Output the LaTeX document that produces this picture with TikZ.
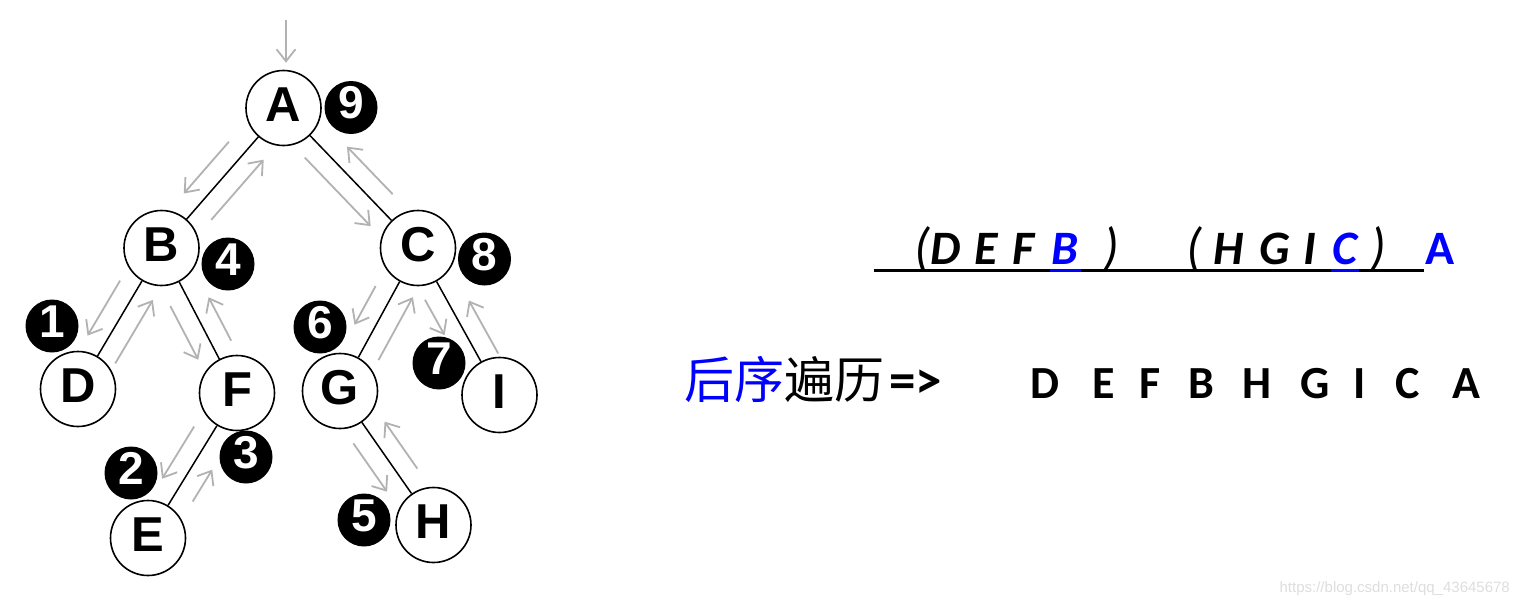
\documentclass[tikz,border=0pt]{standalone}
\usepackage{fontspec}
\setmainfont{Liberation Sans}
\newfontfamily\carl{Carlito}
\newfontfamily\cjkf{Noto Sans CJK SC}
\usetikzlibrary{calc,arrows.meta}
\newcommand\trav[6]{%
  \draw[trav] ($(#1)!#3!(#2)!19pt!-90:(#2)$) -- ($(#1)!#4!(#2)!19pt!-90:(#2)$);
  \draw[trav] ($(#2)!#5!(#1)!19pt!-90:(#1)$) -- ($(#2)!#6!(#1)!19pt!-90:(#1)$);
}
\begin{document}
\begin{tikzpicture}[x=1pt,y=-1pt,
  tn/.style={circle, draw=black, line width=1.6pt, fill=white, minimum size=75pt, inner sep=0pt,
    font=\bfseries\fontsize{49}{49}\selectfont, text height=35pt, text depth=8pt},
  num/.style={circle, fill=black, minimum size=53pt, inner sep=0pt, text=white,
    font=\bfseries\fontsize{46}{46}\selectfont, text height=33pt, text depth=11pt},
  edgeline/.style={line width=1.5pt, draw=black},
  trav/.style={draw=black!30, line width=1.8pt, -{Straight Barb[length=12pt,width=19pt]}},
  fml/.style={anchor=base, inner sep=0pt, font=\carl\bfseries\itshape\fontsize{48}{48}\selectfont},
  par/.style={anchor=base, inner sep=0pt, font=\carl\itshape\fontsize{52}{52}\selectfont},
  seq/.style={anchor=base, inner sep=0pt, font=\carl\bfseries\fontsize{46}{46}\selectfont},
  cjk/.style={anchor=base west, inner sep=0pt, font=\cjkf\fontsize{50}{50}\selectfont}
]
\useasboundingbox (0,0) rectangle (1520,605);
\fill[white] (0,0) rectangle (1520,605);

% tree nodes
\node[tn] (A) at (283.5,108) {A};
\node[tn] (B) at (161.5,248) {B};
\node[tn] (C) at (418,248) {C};
\node[tn] (D) at (78,389) {D};
\node[tn] (F) at (237,393) {F};
\node[tn] (E) at (148,538) {E};
\node[tn] (G) at (340,391) {G};
\node[tn] (I) at (499.5,395) {I};
\node[tn] (H) at (433.5,525) {H};

% edges
\draw[edgeline] (A) -- (B);
\draw[edgeline] (A) -- (C);
\draw[edgeline] (B) -- (D);
\draw[edgeline] (B) -- (F);
\draw[edgeline] (F) -- (E);
\draw[edgeline] (C) -- (G);
\draw[edgeline] (C) -- (I);
\draw[edgeline] (G) -- (H);

% order numbers
\node[num] (n9) at (351,107.5) {9};
\node[num] (n4) at (228,264) {4};
\node[num] (n8) at (484.5,259) {8};
\node[num] (n1) at (52,326) {1};
\node[num] (n3) at (246,457) {3};
\node[num] (n2) at (131,473) {2};
\node[num] (n6) at (320,327) {6};
\node[num] (n7) at (439,363) {7};
\node[num] (n5) at (364,520) {5};

% traversal arrows
\coordinate (top) at (286,20);
\draw[trav] (top) -- ([yshift=7pt]A.north -| top);
\trav{A}{B}{0.33}{0.70}{0.29}{0.72}
\trav{A}{C}{0.26}{0.75}{0.29}{0.63}
\trav{B}{D}{0.30}{0.69}{0.25}{0.70}
\trav{B}{F}{0.34}{0.71}{0.30}{0.60}
\trav{F}{E}{0.30}{0.66}{0.32}{0.54}
\trav{C}{G}{0.33}{0.60}{0.28}{0.72}
\trav{C}{I}{0.29}{0.53}{0.22}{0.58}
\trav{G}{H}{0.31}{0.67}{0.34}{0.69}

% formula
\node[par] (p1) at (922,264) {(};
\node[fml] (f1) at (946,264) {D};
\node[fml] (f2) at (986,264) {E};
\node[fml] (f3) at (1024,264) {F};
\node[fml, text=blue] (f4) at (1065,264) {B};
\node[par] (p2) at (1111,264) {)};
\node[par] (p3) at (1194,264) {(};
\node[fml] (f5) at (1229,264) {H};
\node[fml] (f6) at (1275,264) {G};
\node[fml] (f7) at (1310,264) {I};
\node[fml, text=blue] (f8) at (1345,264) {C};
\node[par] (p4) at (1378,264) {)};
\node[anchor=base, inner sep=0pt, text=blue, font=\carl\bfseries\fontsize{48}{48}\selectfont] (f9) at (1440,264) {A};
\coordinate (u1) at (874,270);
\coordinate (u2) at (1424,270);
\draw[line width=3pt, black] (u1) -- (u2);
\draw[line width=3pt, blue] (1050,270) -- (1081,270);
\draw[line width=3pt, blue] (1331,270) -- (1359,270);

% result line
\node[cjk, text=blue] (h1) at (684,398) {后序};
\node[cjk] (h2) at (h1.base east) {遍历};
\node[anchor=base west, inner sep=0pt, font=\carl\bfseries\fontsize{53}{53}\selectfont] (h3) at (889,398) {=>};
\foreach \px/\t [count=\i] in {1045/D,1104/E,1150/F,1201/B,1257/H,1315/G,1360/I,1408/C,1466/A}
  \node[seq] (s\i) at (\px,398) {\t};

% watermark
\node[anchor=base east, inner sep=0pt, text=black!13, font=\fontsize{15}{15}\selectfont] (wm) at (1510,592) {https://blog.csdn.net/qq\_43645678};
\end{tikzpicture}
\end{document}
